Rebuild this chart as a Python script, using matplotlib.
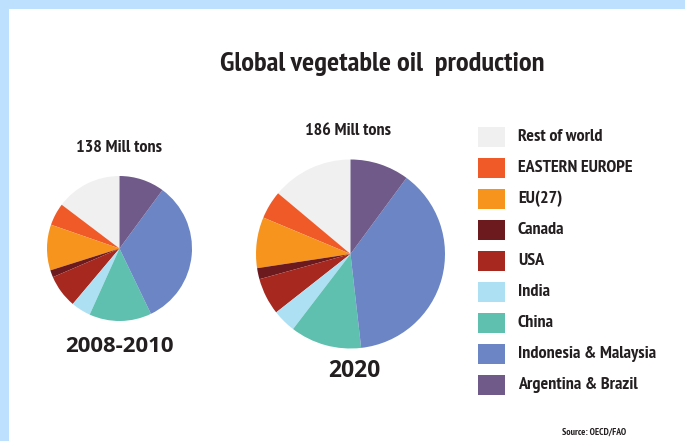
import numpy as np
import matplotlib
matplotlib.use("Agg")
import matplotlib.pyplot as plt
from matplotlib.patches import Rectangle

# legend order (top to bottom); pies are drawn counter-clockwise from 12 o'clock
regions = ["Rest of world", "EASTERN EUROPE", "EU(27)", "Canada", "USA",
           "India", "China", "Indonesia & Malaysia", "Argentina & Brazil"]
colors = ["#f0f0f0", "#f05a28", "#f7941d", "#6d1a1f", "#a7281e",
          "#aee0f3", "#5fc0b0", "#6b85c5", "#6f5a8a"]

# share of world production, percent
share_2008_2010 = [14.7, 5.0, 10.2, 1.6, 7.4, 4.4, 13.9, 32.8, 10.1]
share_2020 = [13.9, 4.8, 8.7, 1.9, 6.3, 4.0, 12.2, 38.1, 10.1]

totals = ["138 Mill tons", "186 Mill tons"]
periods = ["2008-2010", "2020"]

W, H = 685, 441
ink = "#231f20"
narrow = ["PT Sans Narrow", "Roboto Condensed", "Fira Sans Condensed",
          "Archivo Narrow", "DejaVu Sans"]
wide = "Open Sans"

fig = plt.figure(figsize=(W / 100, H / 100), dpi=100)
fig.patch.set_facecolor("#bde0fe")

# white panel with light blue strip on top and left
bg = fig.add_axes([9 / W, 0, 1 - 9 / W, 1 - 9 / H])
bg.set_facecolor("white")
bg.set_xticks([])
bg.set_yticks([])
for s in bg.spines.values():
    s.set_visible(False)


def px_axes(cx, cy, r):
    # square axes centred on (cx, cy) in pixels from the top-left corner
    return fig.add_axes([(cx - r) / W, (H - cy - r) / H, 2 * r / W, 2 * r / H])


pies = [(share_2008_2010, 119.5, 248.5, 72.5), (share_2020, 350.5, 254.0, 94.5)]
for vals, cx, cy, r in pies:
    ax = px_axes(cx, cy, r)
    ax.pie(vals, colors=colors, startangle=90, counterclock=True,
           radius=1, wedgeprops=dict(linewidth=0))
    ax.set_xlim(-1, 1)
    ax.set_ylim(-1, 1)
    ax.set_aspect("equal")
    ax.axis("off")

# overlay in pixel units for the text and legend
ov = fig.add_axes([0, 0, 1, 1])
ov.set_xlim(0, W)
ov.set_ylim(H, 0)
ov.axis("off")

ov.text(382, 64, "Global vegetable oil  production", family=narrow,
        weight="bold", fontsize=20.5, color=ink, ha="center", va="center")

ov.text(119, 148, totals[0], family=narrow, weight="bold", fontsize=13,
        color=ink, ha="center", va="center")
ov.text(348, 131, totals[1], family=narrow, weight="bold", fontsize=13,
        color=ink, ha="center", va="center")

ov.text(119, 346, periods[0], family=wide, weight="bold",
        fontsize=16, color=ink, ha="center", va="center")
ov.text(354, 371, periods[1], family=wide, weight="bold",
        fontsize=16.5, color=ink, ha="center", va="center")

# legend
y0, pitch = 137, 31
for i, (lab, col) in enumerate(zip(regions, colors)):
    y = y0 + i * pitch
    ov.add_patch(Rectangle((478, y - 10), 27, 20, facecolor=col, edgecolor="none"))
    ov.text(518, y, lab, family=narrow, weight="bold", fontsize=13,
            color=ink, ha="left", va="center")

ov.text(562, 432, "Source: OECD/FAO", family=narrow, weight="bold",
        fontsize=7, color=ink, ha="left", va="center")

fig.savefig("out.png", dpi=100)
